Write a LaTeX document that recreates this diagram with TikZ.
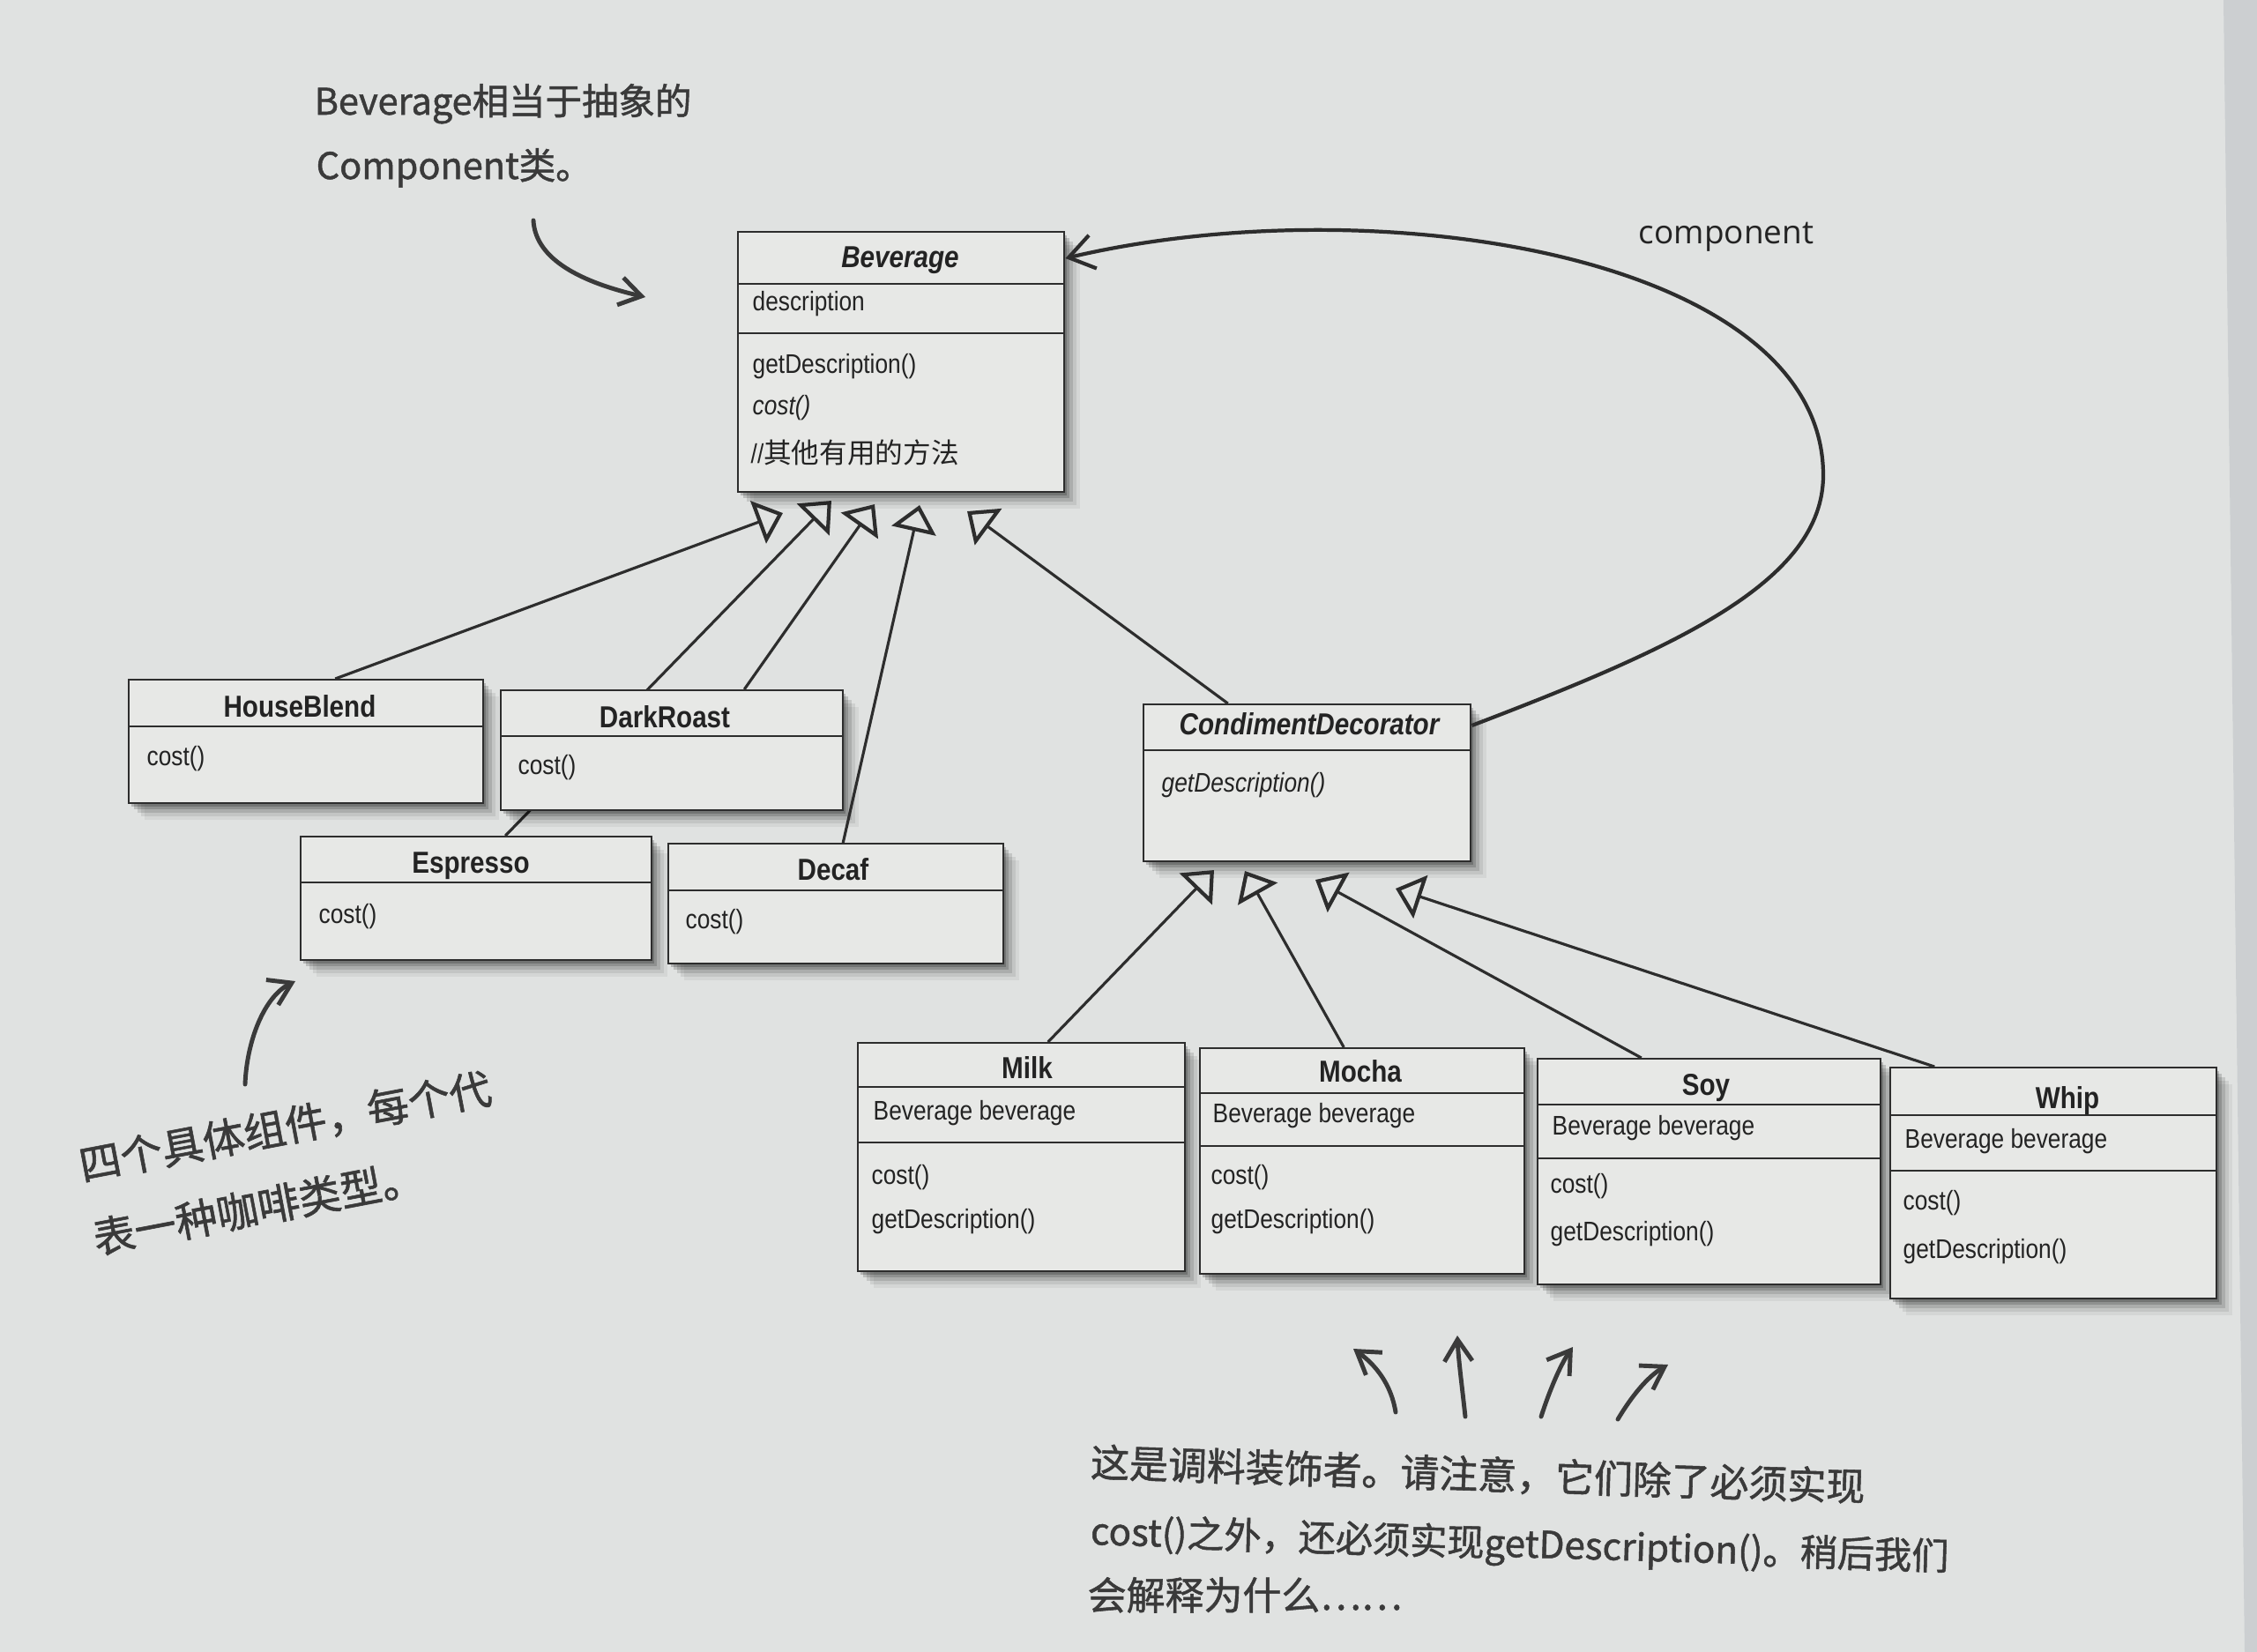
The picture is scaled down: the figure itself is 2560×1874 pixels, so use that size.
\documentclass[tikz,border=0pt]{standalone}
\usepackage{fontspec}
\newfontfamily\umlfont{Liberation Sans}[FakeStretch=0.86]
\newfontfamily\cjkfont{Noto Sans CJK SC}
\newfontfamily\handfont{Noto Sans CJK SC}[FakeBold=1.2]
\newfontfamily\labelfont{Open Sans}
\usetikzlibrary{arrows.meta,shadows}

\pgfdeclarelayer{paper}
\pgfdeclarelayer{wires}
\pgfsetlayers{paper,wires,main}

\definecolor{paperc}{RGB}{224,226,225}
\definecolor{bandc}{RGB}{204,207,209}
\definecolor{boxc}{RGB}{231,232,230}
\definecolor{linec}{RGB}{45,45,45}
\definecolor{textc}{RGB}{35,35,35}
\definecolor{handc}{RGB}{58,58,58}

\tikzset{
  classbox/.style={draw=linec, fill=boxc, line width=0.7pt, anchor=north west, inner sep=0pt,
    drop shadow={shadow xshift=1.8mm, shadow yshift=-1.9mm, opacity=0.05, fill=black},
    drop shadow={shadow xshift=1.4mm, shadow yshift=-1.5mm, opacity=0.08, fill=black},
    drop shadow={shadow xshift=1.0mm, shadow yshift=-1.1mm, opacity=0.12, fill=black},
    drop shadow={shadow xshift=0.6mm, shadow yshift=-0.7mm, opacity=0.16, fill=black},
    drop shadow={shadow xshift=0.3mm, shadow yshift=-0.35mm, opacity=0.2, fill=black}},
  divider/.style={draw=linec, line width=0.7pt},
  classname/.style={anchor=base, inner sep=0pt, text=textc, font=\umlfont\bfseries\fontsize{9.8}{11}\selectfont},
  abstractname/.style={classname, font=\umlfont\bfseries\itshape\fontsize{9.8}{11}\selectfont},
  member/.style={anchor=base west, inner sep=0pt, text=textc, font=\umlfont\fontsize{8.7}{10}\selectfont},
  inherit/.style={draw=linec, line width=0.9pt, -{Triangle[open, length=8.5pt, width=14.5pt, line width=1.2pt]}},
  hand/.style={draw=handc, line width=1.4pt, line cap=round, -{Straight Barb[length=7pt, width=9pt]}},
  note/.style={anchor=base west, inner sep=0pt, text=handc, font=\handfont\fontsize{12.5}{15}\selectfont},
}

\begin{document}
\begin{tikzpicture}[x=0.1mm, y=-0.1mm]
    \useasboundingbox (0,0) rectangle (2560,1874);
    \begin{pgfonlayer}{paper}
        \fill[paperc] (0,0) rectangle (2560,1874);
        \fill[bandc] (2522,0) -- (2560,0) -- (2560,1874) -- (2546,1874) -- cycle;
    \end{pgfonlayer}

    % abstract component
    \node[classbox, minimum width=37mm, minimum height=29.5mm] (bev) at (836,262) {};
    \draw[divider] (836,322) -- (1206,322);
    \draw[divider] (836,378) -- (1206,378);
    \node[abstractname] (bev-name) at (1021,303) {Beverage};
    \node[member] (bev-attr) at (853,352) {description};
    \node[member] (bev-m1) at (853,423) {getDescription()};
    \node[member] (bev-m2) at (853,470) {\itshape cost()};
    \node[member] (bev-m3) at (851,525) {//{\cjkfont\fontsize{9}{10}\selectfont 其他有用的方法}};

    % concrete components
    \node[classbox, minimum width=40.2mm, minimum height=14mm] (hb) at (145,770) {};
    \draw[divider] (145,824) -- (547,824);
    \node[classname] (hb-name) at (340,813) {HouseBlend};
    \node[member] (hb-m1) at (166,868) {cost()};

    \node[classbox, minimum width=38.8mm, minimum height=13.6mm] (dr) at (567,782) {};
    \draw[divider] (567,835) -- (955,835);
    \node[classname] (dr-name) at (754,825) {DarkRoast};
    \node[member] (dr-m1) at (587,878) {cost()};

    \node[classbox, minimum width=39.8mm, minimum height=14mm] (es) at (340,948) {};
    \draw[divider] (340,1001) -- (738,1001);
    \node[classname] (es-name) at (534,990) {Espresso};
    \node[member] (es-m1) at (361,1047) {cost()};

    \node[classbox, minimum width=38mm, minimum height=13.6mm] (df) at (757,956) {};
    \draw[divider] (757,1010) -- (1137,1010);
    \node[classname] (df-name) at (945,998) {Decaf};
    \node[member] (df-m1) at (777,1053) {cost()};

    % decorator
    \node[classbox, minimum width=37.1mm, minimum height=17.8mm] (cd) at (1296,798) {};
    \draw[divider] (1296,851) -- (1667,851);
    \node[abstractname] (cd-name) at (1485,833) {CondimentDecorator};
    \node[member] (cd-m1) at (1317,898) {\itshape getDescription()};

    % condiments
    \node[classbox, minimum width=37.1mm, minimum height=25.9mm] (mk) at (972,1182) {};
    \draw[divider] (972,1233) -- (1343,1233);
    \draw[divider] (972,1296) -- (1343,1296);
    \node[classname] (mk-name) at (1165,1223) {Milk};
    \node[member] (mk-attr) at (990,1270) {Beverage beverage};
    \node[member] (mk-m1) at (988,1343) {cost()};
    \node[member] (mk-m2) at (988,1393) {getDescription()};

    \node[classbox, minimum width=36.8mm, minimum height=25.6mm] (mo) at (1360,1188) {};
    \draw[divider] (1360,1240) -- (1728,1240);
    \draw[divider] (1360,1300) -- (1728,1300);
    \node[classname] (mo-name) at (1543,1227) {Mocha};
    \node[member] (mo-attr) at (1375,1273) {Beverage beverage};
    \node[member] (mo-m1) at (1373,1343) {cost()};
    \node[member] (mo-m2) at (1373,1393) {getDescription()};

    \node[classbox, minimum width=38.9mm, minimum height=25.6mm] (so) at (1743,1200) {};
    \draw[divider] (1743,1253) -- (2132,1253);
    \draw[divider] (1743,1314) -- (2132,1314);
    \node[classname] (so-name) at (1935,1242) {Soy};
    \node[member] (so-attr) at (1760,1287) {Beverage beverage};
    \node[member] (so-m1) at (1758,1353) {cost()};
    \node[member] (so-m2) at (1758,1407) {getDescription()};

    \node[classbox, minimum width=37mm, minimum height=26.2mm] (wh) at (2143,1210) {};
    \draw[divider] (2143,1265) -- (2513,1265);
    \draw[divider] (2143,1328) -- (2513,1328);
    \node[classname] (wh-name) at (2345,1257) {Whip};
    \node[member] (wh-attr) at (2160,1302) {Beverage beverage};
    \node[member] (wh-m1) at (2158,1372) {cost()};
    \node[member] (wh-m2) at (2158,1427) {getDescription()};

    % arrow tips under Beverage and CondimentDecorator
    \coordinate (t1) at (888,582);
    \coordinate (t2) at (943,568);
    \coordinate (t3) at (992,572);
    \coordinate (t4) at (1043,573);
    \coordinate (t5) at (1097,580);
    \coordinate (u1) at (1377,987);
    \coordinate (u2) at (1412,988);
    \coordinate (u3) at (1492,998);
    \coordinate (u4) at (1583,1008);

    \draw[inherit] ([xshift=3.3mm]hb.north) -- (t1);
    \begin{pgfonlayer}{wires}
        \draw[inherit] ([xshift=3.3mm]es.north) -- (t2);
    \end{pgfonlayer}
    \draw[inherit] ([xshift=8.2mm]dr.north) -- (t3);
    \draw[inherit] ([xshift=0.8mm]df.north) -- (t4);
    \draw[inherit] ([xshift=-9mm]cd.north) -- (t5);

    \draw[inherit] ([xshift=3mm]mk.north) -- (u1);
    \draw[inherit] ([xshift=-2.1mm]mo.north) -- (u2);
    \draw[inherit] ([xshift=-7.7mm]so.north) -- (u3);
    \draw[inherit] ([xshift=-13.5mm]wh.north) -- (u4);

    % wrapped component
    \draw[draw=linec, line width=1.2pt, -{Straight Barb[length=8pt, width=11pt]}]
        ([yshift=-2.5mm]cd.north east) .. controls (1900,735) and (2068,660) .. (2068,539)
        .. controls (2068,290) and (1560,210) .. ([yshift=-3.1mm]bev.north east);
    \node[font=\labelfont\fontsize{10.5}{12}\selectfont, text=textc] (comp) at (1958,269) {component};

    % handwritten notes
    \node[note, font=\handfont\fontsize{11.8}{14}\selectfont] (note-a1) at (356,130) {Beverage相当于抽象的};
    \node[note, font=\handfont\fontsize{11.8}{14}\selectfont] (note-a2) at (358,203) {Component类。};
    \draw[hand] (605,250) .. controls (607,290) and (650,318) .. (732,337);

    \node[note, rotate=10.8, text width=52mm, align=left, font=\handfont\fontsize{13.5}{24}\selectfont]
        (note-b) at (93,1340) {四个具体组件，每个代\\表一种咖啡类型。};
    \draw[hand] (278,1230) .. controls (280,1180) and (300,1130) .. (335,1113);

    \node[note, rotate=-1.8] (note-c1) at (1236,1675) {这是调料装饰者。请注意，它们除了必须实现};
    \node[note, rotate=-1.7, font=\handfont\fontsize{12}{15}\selectfont] (note-c2) at (1236,1752) {cost()之外，还必须实现getDescription()。稍后我们};
    \node[note] (note-c3) at (1233,1826) {会解释为什么……};
    \draw[hand] (1583,1602) .. controls (1578,1570) and (1560,1548) .. (1535,1530);
    \draw[hand] (1662,1607) .. controls (1658,1570) and (1654,1540) .. (1653,1515);
    \draw[hand] (1748,1607) .. controls (1760,1570) and (1772,1545) .. (1784,1528);
    \draw[hand] (1835,1610) .. controls (1850,1585) and (1868,1562) .. (1892,1548);
\end{tikzpicture}
\end{document}
